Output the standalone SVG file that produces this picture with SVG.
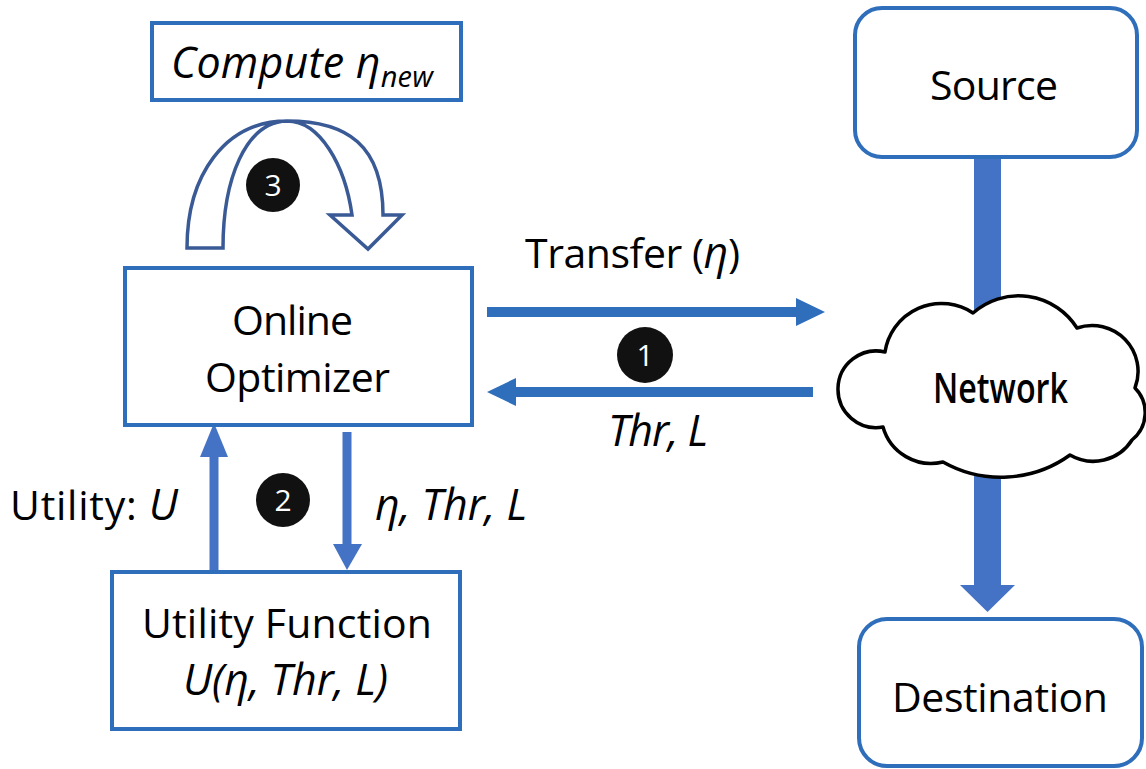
<svg xmlns="http://www.w3.org/2000/svg" width="1146" height="769" viewBox="0 0 1146 769">
<style>
.box{fill:#fff;stroke:#2F6EBA;stroke-width:4}
.t{font-family:"Open Sans","Liberation Sans",sans-serif;font-size:41px;fill:#000}
.i{font-style:italic;font-size:43px}
.num{font-family:"Open Sans","Liberation Sans",sans-serif;font-size:30px;fill:#fff;text-anchor:middle}
.badge{fill:#111}
.arr{fill:#2F6EBA}
.arr2{fill:#4472C4}
</style>
<g id="connectors">
  <rect class="arr2" x="974" y="156" width="27" height="430"/>
  <polygon class="arr2" points="960,585 1015,585 987.5,612"/>
  <rect class="arr" x="487" y="307" width="312" height="10"/>
  <polygon class="arr" points="796,298 825,312 796,326"/>
  <rect class="arr" x="513" y="387" width="300" height="10"/>
  <polygon class="arr" points="516,378 487,392 516,406"/>
  <rect class="arr2" x="209.5" y="455" width="9" height="116"/>
  <polygon class="arr2" points="200,457 228,457 214,423"/>
  <rect class="arr2" x="342.5" y="432" width="9" height="114"/>
  <polygon class="arr2" points="333,544 362,544 347,570"/>
  <path d="M187,248 L223,248 C223,180 245,122 287,121 C347,121 383,145 383,215 L402,215 L368,249 L330,215 L352,215 C345,165 320,121 287,121 C225,121 187,175 187,248 Z" fill="#fff" stroke="#3A5A96" stroke-width="3.5" stroke-linejoin="miter"/>
</g>
<g id="compute">
  <rect class="box" x="152" y="23" width="309" height="77"/>
  <text class="t i" x="171" y="78" textLength="262">Compute η<tspan font-size="29" dy="9">new</tspan></text>
</g>
<g id="badge3">
  <circle class="badge" cx="273" cy="185" r="27"/>
  <text class="num" x="273" y="196">3</text>
</g>
<g id="optimizer">
  <rect class="box" x="125" y="268" width="347" height="157"/>
  <text class="t" x="232" y="335" textLength="121">Online</text>
  <text class="t" x="205" y="392" textLength="185">Optimizer</text>
</g>
<g id="badge2">
  <circle class="badge" cx="283" cy="500" r="27"/>
  <text class="num" x="283" y="511">2</text>
</g>
<g id="badge1">
  <circle class="badge" cx="645" cy="355" r="28"/>
  <text class="num" x="645" y="366">1</text>
</g>
<g id="labels">
  <text class="t" x="525" y="268" textLength="215">Transfer (<tspan class="i">η</tspan>)</text>
  <text class="t i" x="608" y="446" textLength="100">Thr, L</text>
  <text class="t" x="10" y="520" textLength="168">Utility: <tspan class="i">U</tspan></text>
  <text class="t i" x="375" y="520" textLength="152">η, Thr, L</text>
</g>
<g id="utility">
  <rect class="box" x="112" y="572" width="348" height="157"/>
  <text class="t" x="142" y="638" textLength="290">Utility Function</text>
  <text class="t i" x="183" y="695" textLength="205">U(η, Thr, L)</text>
</g>
<g id="source">
  <rect class="box" x="855" y="8" width="282" height="149" rx="27"/>
  <text class="t" x="930" y="100" textLength="128">Source</text>
</g>
<g id="network">
  <path d="M885,352 A57,57 0 0 1 973,313 A69,69 0 0 1 1077,328 A46,46 0 0 1 1135,388 A35,35 0 0 1 1132,440 A46,46 0 0 1 1070,455 A118,118 0 0 1 943,462 A50,50 0 0 1 883,427 A38.3,38.3 0 1 1 885,352 Z" fill="#fff" stroke="#000" stroke-width="3.5" stroke-linejoin="round"/>
  <text class="t" x="933" y="403" font-size="28" font-weight="600" textLength="135" lengthAdjust="spacingAndGlyphs">Network</text>
</g>
<g id="destination">
  <rect class="box" x="859" y="619" width="283" height="147" rx="28"/>
  <text class="t" x="892" y="712" textLength="216">Destination</text>
</g>
</svg>
